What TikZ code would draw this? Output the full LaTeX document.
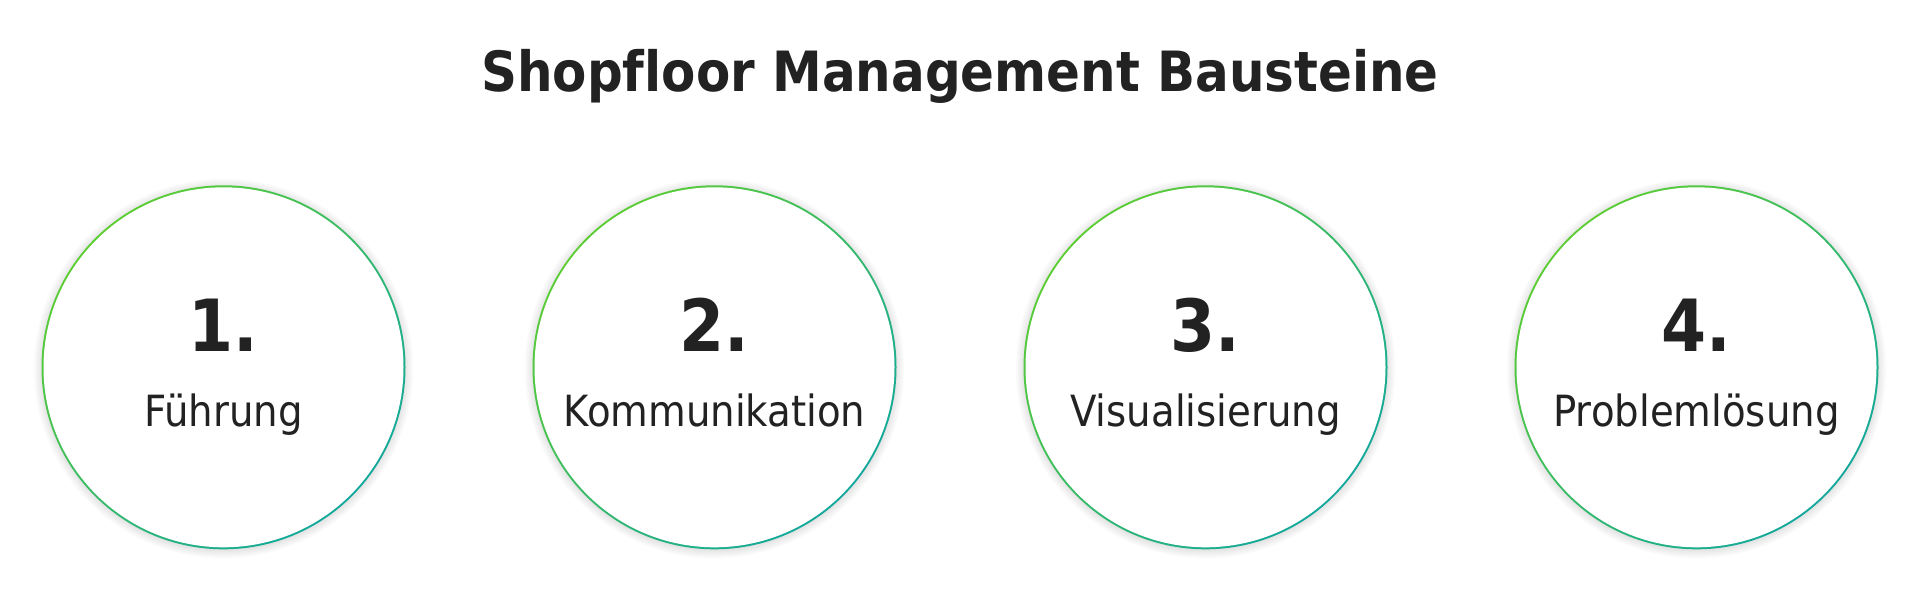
\documentclass[tikz,border=0pt]{standalone}
\usepackage{fontspec}
\newfontfamily\lblfam{DejaVu Sans}[FakeStretch=0.9]
\newfontfamily\boldfam{DejaVu Sans Bold}[FakeStretch=0.9,Ligatures=NoCommon]
\definecolor{ink}{HTML}{222222}
\definecolor{gA}{HTML}{5CCD33}
\definecolor{gB}{HTML}{12A89C}
\begin{document}
\begin{tikzpicture}[x=1pt,y=-1pt]
\tikzset{
  ring/.style={circle, inner sep=0pt, minimum size=364pt, draw=none,
    top color=gA, bottom color=gB, shading angle=45},
  disc/.style={circle, inner sep=0pt, minimum size=360pt, fill=white, draw=none},
  numtxt/.style={anchor=base, text=ink, inner sep=0pt, font=\boldfam\fontsize{72}{80}\selectfont},
  lbltxt/.style={anchor=base, text=ink, inner sep=0pt, font=\lblfam\fontsize{43}{50}\selectfont},
  ttltxt/.style={anchor=base, text=ink, inner sep=0pt, font=\boldfam\fontsize{55.5}{64}\selectfont},
  shadowfill/.style={fill=black, opacity=0.01, draw=none}
}
\useasboundingbox (0,0) rectangle (1920,593);
\fill[white] (0,0) rectangle (1920,593);
\node[ttltxt] (title) at (960,91.7) {Shopfloor Management Bausteine};
\foreach \cx/\i/\num/\lab in {223.5/1/1./Führung, 714.5/2/2./Kommunikation, 1205.5/3/3./Visualisierung, 1696.5/4/4./Problemlösung}{
  \foreach \k in {1,...,9}{
    \fill[shadowfill] (\cx,368.5) circle ({181+\k});
  }
  \node[ring] (r\i) at (\cx,367.3) {};
  \node[disc] (c\i) at (\cx,367.3) {};
  \node[numtxt] (n\i) at (\cx,351.7) {\num};
  \node[lbltxt] (l\i) at (\cx,426.7) {\lab};
}
\end{tikzpicture}
\end{document}
